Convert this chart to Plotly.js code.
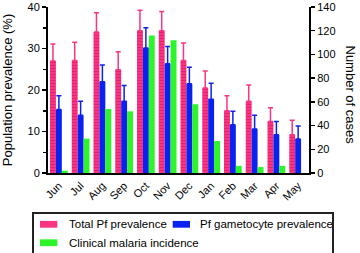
<!DOCTYPE html>
<html>
<head>
<meta charset="utf-8">
<script src="https://cdn.plot.ly/plotly-3.0.1.min.js"></script>
<style>
html,body{margin:0;padding:0;background:#fff;overflow:hidden;}
#wrap{position:relative;width:360px;height:253px;overflow:hidden;}
#chart{width:360px;height:253px;}
#legendBox{position:absolute;left:32px;top:212px;width:302px;height:60px;box-sizing:border-box;border:2px solid #222;pointer-events:none;}
</style>
</head>
<body>
<div id="wrap">
<div id="chart"></div>
<div id="legendBox"></div>
</div>
<script>
const months = ['Jun','Jul','Aug','Sep','Oct','Nov','Dec','Jan','Feb','Mar','Apr','May'];
const totalPf = [27.0,27.1,34.0,24.9,34.3,34.3,27.1,20.5,15.0,17.3,12.4,9.2];
const totalPfError = [4.1,4.4,4.6,4.3,4.9,4.6,4.2,4.1,3.6,3.9,3.3,3.5];
const gametocyte = [15.3,13.9,22.0,17.3,30.1,26.3,21.5,17.8,11.6,10.6,9.2,8.2];
const gametocyteError = [3.3,3.4,4.0,3.8,4.9,4.2,4.0,3.8,3.3,3.3,3.2,3.1];
const clinicalCases = [2,29,54,52,116,112,58,27,6,5,6,0];
const seriesNames = ['Total Pf prevalence','Pf gametocyte prevalence','Clinical malaria incidence'];

const PINK = '#fa3482', BLUE = '#0a22f0', GREEN = '#2cf52c';
const COLORS = [PINK, BLUE, GREEN];
const FONT = 'Liberation Sans, Arial, sans-serif';
const W = 0.272;

// plot-area geometry in pixels (for legend placement)
const L = 48, R = 51, T = 7, B = 80, FW = 360, FH = 253;
const PW = FW - L - R, PH = FH - T - B;
const px = v => (v - L) / PW;
const py = v => (FH - B - v) / PH;

const traces = [
  {type:'bar', name:seriesNames[0], x:months, y:totalPf, width:W, offset:-1.5*W,
   marker:{color:PINK, line:{width:0}, pattern:{shape:'-', fgcolor:'#d81f68', bgcolor:PINK, size:3, solidity:0.25}},
   error_y:{type:'data', array:totalPfError, symmetric:false, arrayminus:totalPf.map(()=>0), color:PINK, thickness:1.5, width:2.5},
   yaxis:'y'},
  {type:'bar', name:seriesNames[1], x:months, y:gametocyte, width:W, offset:-0.5*W,
   marker:{color:BLUE, line:{width:0}},
   error_y:{type:'data', array:gametocyteError, symmetric:false, arrayminus:gametocyte.map(()=>0), color:BLUE, thickness:1.5, width:2.5},
   yaxis:'y'},
  {type:'bar', name:seriesNames[2], x:months, y:clinicalCases, width:W, offset:0.5*W,
   marker:{color:GREEN, line:{width:0}},
   yaxis:'y2'}
];

// legend swatches + text (box border is the #legendBox element)
const legendItems = [
  {sx:40, tx:67, y:224.3},
  {sx:172.7, tx:197.5, y:224.3},
  {sx:40, tx:67, y:242.7}
];
const fillRect = (x0, x1, y0, y1, c) => ({type:'rect', xref:'paper', yref:'paper',
  x0:px(x0), x1:px(x1), y0:py(y1), y1:py(y0), line:{width:0}, fillcolor:c, layer:'above'});
const shapes = [];
const annotations = [
  {text:'Number of cases', xref:'paper', yref:'paper', x:px(350), y:py(94.5), textangle:90,
   showarrow:false, font:{size:13}, xanchor:'center', yanchor:'middle'}
];
legendItems.forEach((it, i) => {
  shapes.push(fillRect(it.sx, it.sx+17.3, it.y-3.4, it.y+3.4, COLORS[i]));
  annotations.push({text:seriesNames[i], xref:'paper', yref:'paper', x:px(it.tx), y:py(it.y),
                    xanchor:'left', yanchor:'middle', showarrow:false, font:{size:11.5}});
});

const layout = {
  width:FW, height:FH,
  margin:{l:L, r:R, t:T, b:B, autoexpand:false},
  paper_bgcolor:'#fff', plot_bgcolor:'#fff',
  font:{family:FONT, size:11, color:'#000'},
  barmode:'overlay',
  showlegend:false,
  xaxis:{type:'category', showline:true, linecolor:'#000', linewidth:2, ticks:'', tickangle:-45,
         tickfont:{size:11}, showgrid:false, zeroline:false, fixedrange:true},
  yaxis:{range:[0,40], dtick:10, showline:true, linecolor:'#000', linewidth:2, ticks:'outside', ticklen:4, tickwidth:1.5,
         tickcolor:'#000', showgrid:false, zeroline:false, tickfont:{size:11},
         minor:{dtick:5, ticks:'outside', ticklen:3, tickwidth:1.5, tickcolor:'#000', showgrid:false},
         title:{text:'Population prevalence (%)', font:{size:13}}},
  yaxis2:{range:[0,140], dtick:20, overlaying:'y', side:'right', showline:true, linecolor:'#000', linewidth:2,
          ticks:'outside', ticklen:4, tickwidth:1.5, tickcolor:'#000', showgrid:false, zeroline:false, tickfont:{size:11}},
  shapes:shapes,
  annotations:annotations
};

Plotly.newPlot('chart', traces, layout, {staticPlot:true, displayModeBar:false});
</script>
</body>
</html>
